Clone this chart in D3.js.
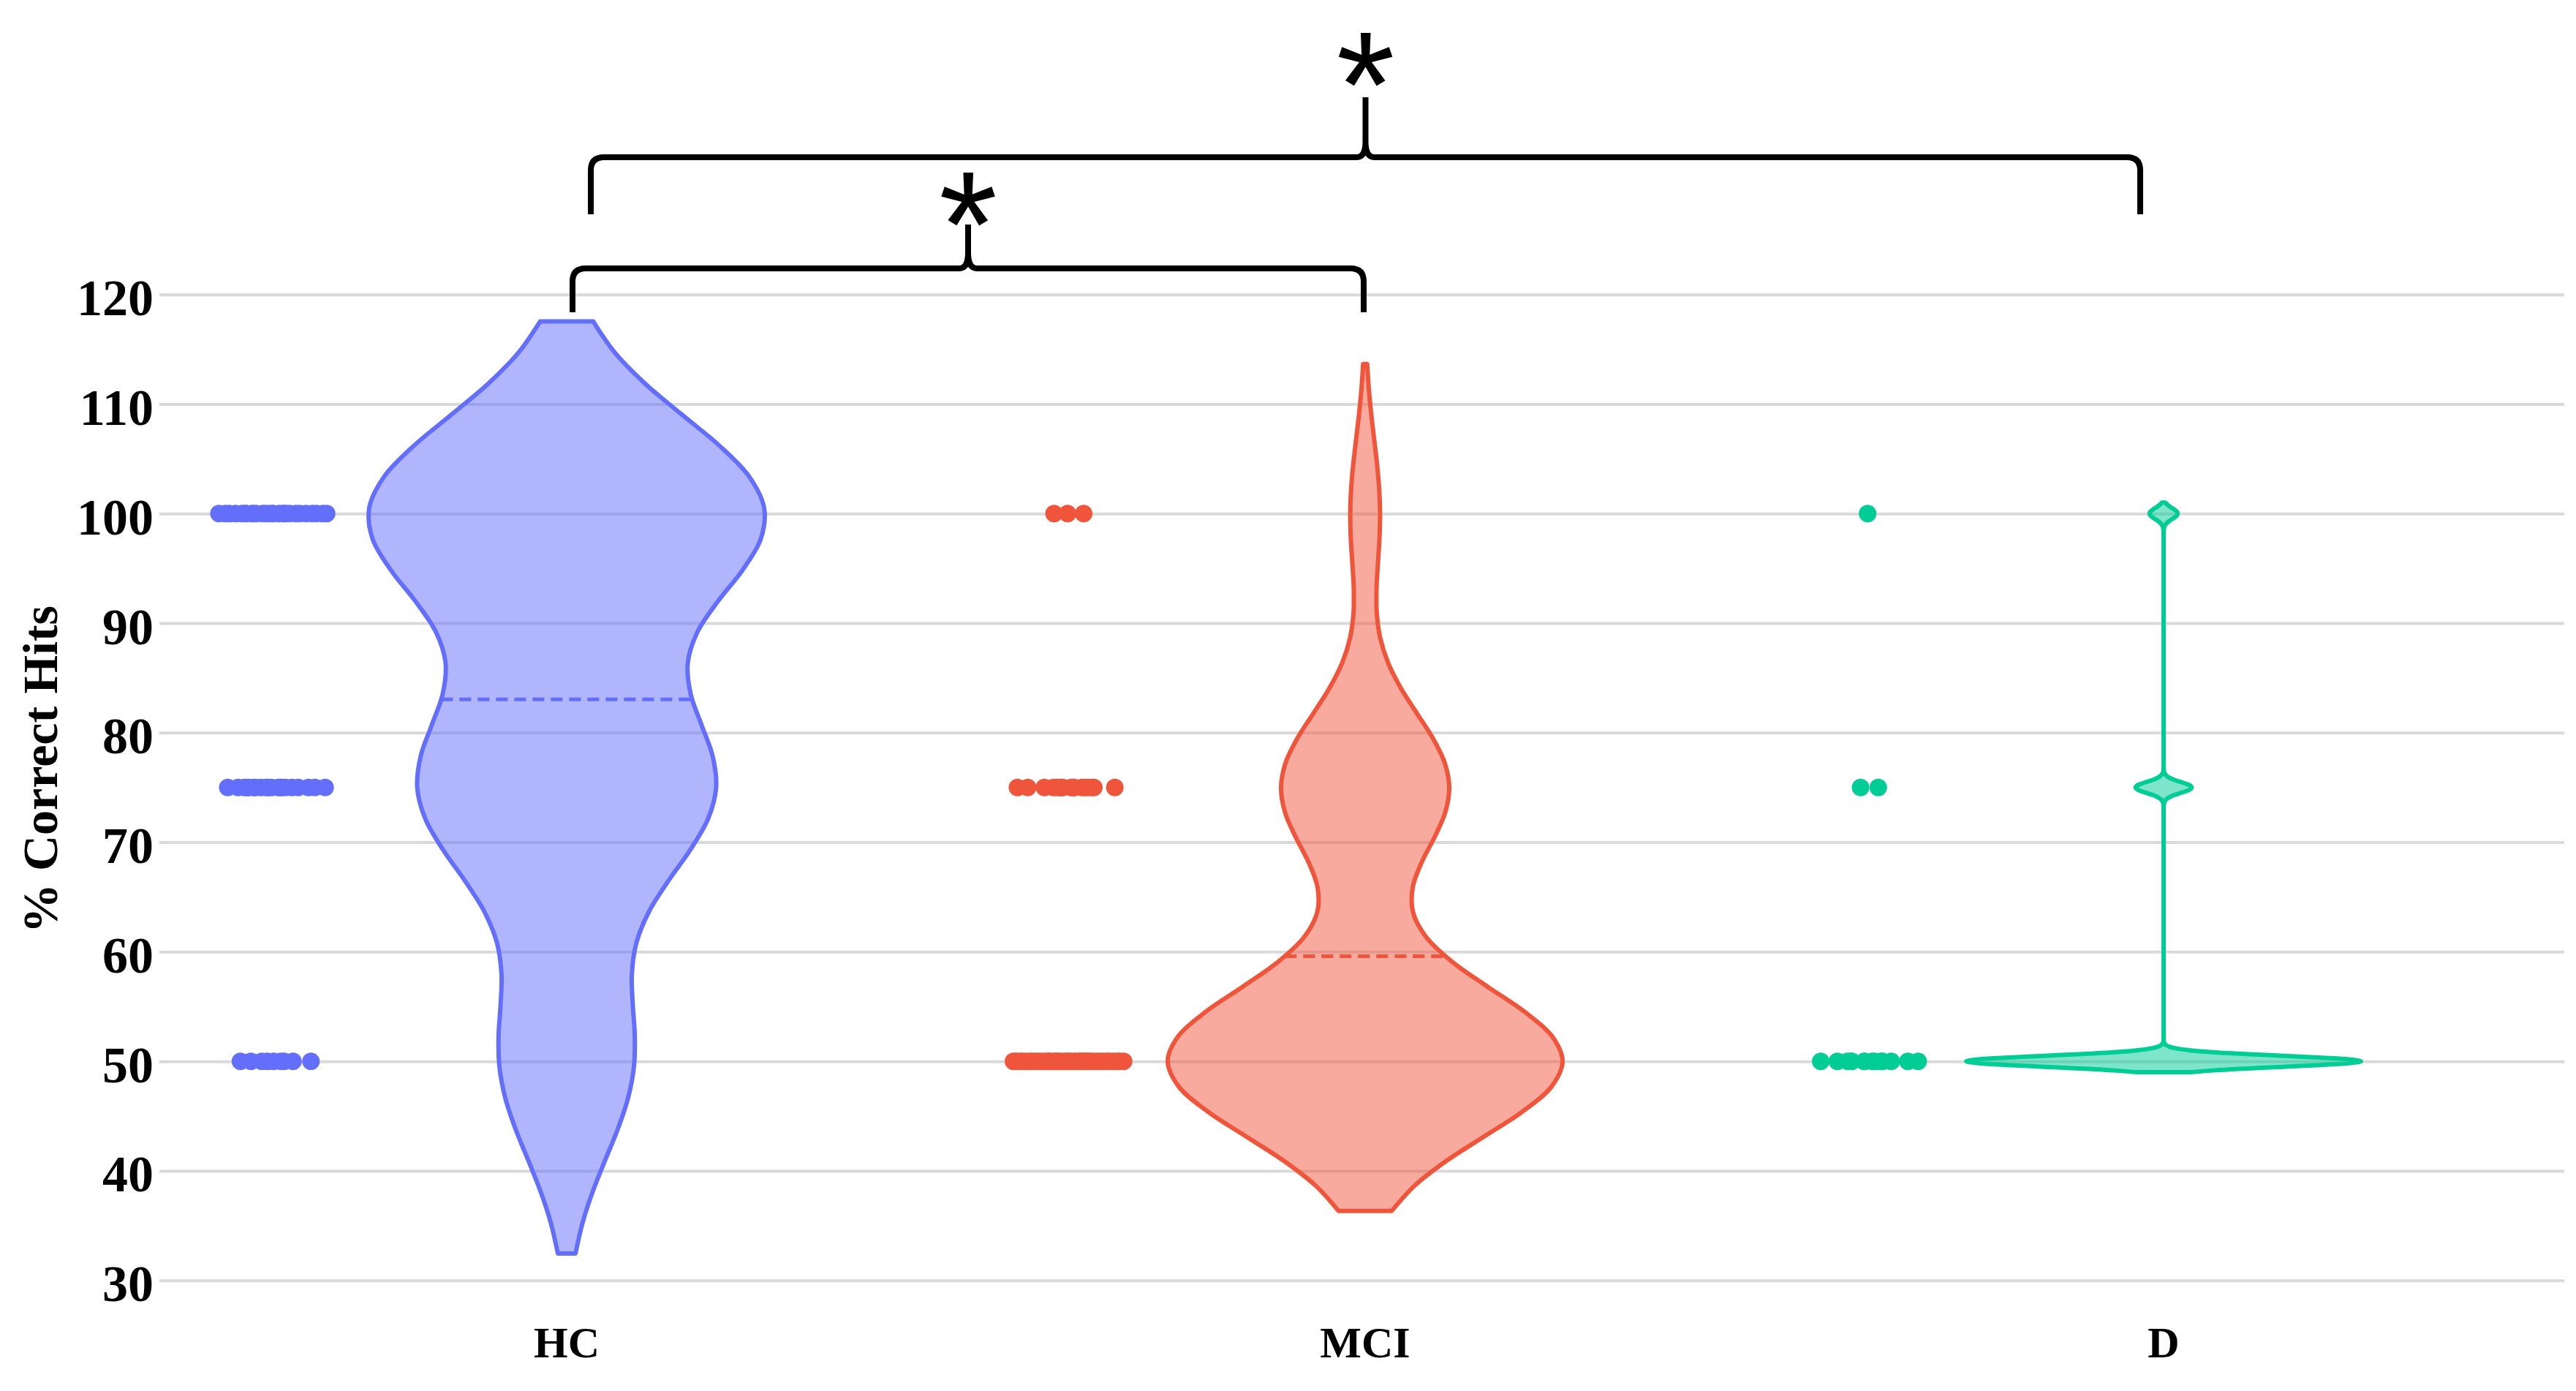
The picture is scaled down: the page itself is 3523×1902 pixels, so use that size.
<!DOCTYPE html>
<html>
<head>
<meta charset="utf-8">
<script src="https://cdn.jsdelivr.net/npm/d3@7"></script>
<style>
  body { margin: 0; background: #fff; }
  svg { display: block; }
</style>
</head>
<body>
<div class="chart"></div>
<script>
// values: how many subjects scored 50, 75, 100 in each group
var categories = ['HC', 'MCI', 'D'];
var scoreLevels = [50, 75, 100];
var countsHC = [9, 20, 27];
var countsMCI = [40, 17, 3];
var countsD = [14, 2, 1];
var groupColors = ['#636efa', '#ef553b', '#00cc96'];
var yTicks = [30, 40, 50, 60, 70, 80, 90, 100, 110, 120];
var yTitle = '% Correct Hits';
var comparisons = [['HC', 'MCI'], ['HC', 'D']];
var compLabels = ['*', '*'];

var width = 3523, height = 1902;
var gridLeft = 218, gridRight = 3507;
var violinHalf = 270, pointShift = -405, jitterHalf = 78, dotR = 12;

var svg = d3.select('.chart').append('svg')
    .attr('width', width)
    .attr('height', height);

var x = d3.scaleBand().domain(categories).range([229, 3505]);
var y = d3.scaleLinear().domain([30, 120]).range([1750.7, 402.7]);
function cx(c) { return x(c) + x.bandwidth() / 2; }

// gridlines + tick labels
var yAxis = d3.axisLeft(y)
    .tickValues(yTicks)
    .tickSize(-(gridRight - gridLeft))
    .tickPadding(8);

svg.append('g')
    .attr('transform', 'translate(' + gridLeft + ',0)')
    .call(yAxis)
    .call(function(g) {
      g.select('.domain').remove();
      g.selectAll('.tick line').attr('stroke', '#d9d9d9').attr('stroke-width', 4);
      g.selectAll('.tick text')
        .attr('dy', null)
        .attr('y', 28)
        .attr('fill', '#000')
        .style('font', 'bold 70px "Liberation Serif", "Times New Roman", serif');
    });

// category labels
var xAxis = d3.axisBottom(x).tickSize(0).tickPadding(0);
svg.append('g')
    .attr('transform', 'translate(0,1856)')
    .call(xAxis)
    .call(function(g) {
      g.select('.domain').remove();
      g.selectAll('.tick text')
        .attr('dy', null)
        .attr('y', 0)
        .attr('fill', '#000')
        .style('font', 'bold 60px "Liberation Serif", "Times New Roman", serif');
    });

svg.append('text')
    .attr('transform', 'translate(78,1052) rotate(-90)')
    .attr('text-anchor', 'middle')
    .style('font', 'bold 68px "Liberation Serif", "Times New Roman", serif')
    .text(yTitle);

// expand counts into raw scores
function expand(counts) {
  var out = [];
  counts.forEach(function(n, i) { for (var k = 0; k < n; k++) out.push(scoreLevels[i]); });
  return out;
}
var groups = [countsHC, countsMCI, countsD].map(function(c, i) {
  return { name: categories[i], color: groupColors[i], vals: expand(c) };
});

// gaussian kde, silverman bandwidth, soft span (like plotly violins)
groups.forEach(function(g) {
  var s = g.vals.slice().sort(d3.ascending);
  var n = s.length;
  var sd = d3.deviation(s);
  var iqr = d3.quantile(s, 0.75) - d3.quantile(s, 0.25);
  var bw = Math.max(1.059 * Math.min(sd, iqr / 1.349) * Math.pow(n, -0.2), (s[n - 1] - s[0]) / 100);
  var kde = function(t) {
    return d3.sum(s, function(v) { return Math.exp(-0.5 * Math.pow((t - v) / bw, 2)); }) / (n * bw);
  };
  var lo = s[0] - 2 * bw, hi = s[n - 1] + 2 * bw;
  var steps = Math.ceil((hi - lo) / (bw / 3)), step = (hi - lo) / steps;
  g.sorted = s;
  g.kde = kde;
  g.mean = d3.mean(s);
  g.density = d3.range(steps + 1).map(function(k) { var t = lo + k * step; return { t: t, v: kde(t) }; });
  g.w = d3.scaleLinear().domain([0, d3.max(g.density, function(d) { return d.v; })]).range([0, violinHalf]);
});

var violin = svg.append('g');
groups.forEach(function(g) {
  var c = cx(g.name);
  var area = d3.area()
      .y(function(d) { return y(d.t); })
      .x0(function(d) { return c - g.w(d.v); })
      .x1(function(d) { return c + g.w(d.v); })
      .curve(d3.curveCatmullRom);
  violin.append('path')
      .datum(g.density)
      .attr('d', area)
      .attr('fill', g.color)
      .attr('fill-opacity', 0.5)
      .attr('stroke', g.color)
      .attr('stroke-width', 6)
      .attr('stroke-linejoin', 'round');

  var mw = g.w(g.kde(g.mean));
  violin.append('line')
      .attr('x1', c - mw).attr('x2', c + mw)
      .attr('y1', y(g.mean)).attr('y2', y(g.mean))
      .attr('stroke', g.color)
      .attr('stroke-width', 5)
      .attr('stroke-dasharray', '16,9');

  // points, spread sideways by local density (fixed golden-ratio sequence, no randomness)
  var s = g.sorted, n = s.length, JC = 5, minSpan = 0.5;
  var f = s.map(function(v, i) {
    var i0 = Math.max(0, i - JC), i1 = Math.min(n - 1, i + JC);
    return Math.min(1, Math.sqrt(minSpan * (i1 - i0) / (s[i1] - s[i0] + minSpan)));
  });
  var fMax = d3.max(f);
  violin.append('g').selectAll('circle')
      .data(s)
      .enter().append('circle')
      .attr('cx', function(d, i) {
        var u = ((i + 1) * 0.6180339887) % 1;
        return c + pointShift + (u - 0.5) * 2 * jitterHalf * f[i] / fMax;
      })
      .attr('cy', function(d) { return y(d); })
      .attr('r', dotR)
      .attr('fill', g.color);
});

// significance brackets
var bracketGeom = [
  { dxFrom: 8, dxTo: -2, lineY: 367, endY: 427, tipY: 307, starY: 273 },
  { dxFrom: 33, dxTo: -32, lineY: 215, endY: 293, tipY: 133, starY: 82 }
];

var ctx = document.createElement('canvas').getContext('2d');
ctx.font = '100px "Liberation Sans"';
var m = ctx.measureText('*');
var inkH = m.actualBoundingBoxAscent + m.actualBoundingBoxDescent;
var starSize = 100 * 74 / inkH;
var starBase = (m.actualBoundingBoxAscent - m.actualBoundingBoxDescent) / 2 * starSize / 100;

var br = svg.append('g');
comparisons.forEach(function(p, i) {
  var gm = bracketGeom[i];
  var x0 = cx(p[0]) + gm.dxFrom, x1 = cx(p[1]) + gm.dxTo;
  var mid = (x0 + x1) / 2, r = 18, h = gm.lineY;
  var path = d3.path();
  path.moveTo(x0, gm.endY);
  path.lineTo(x0, h + r);
  path.quadraticCurveTo(x0, h, x0 + r, h);
  path.lineTo(mid - 12, h);
  path.quadraticCurveTo(mid, h, mid, h - 22);
  path.lineTo(mid, gm.tipY);
  path.moveTo(mid, h - 22);
  path.quadraticCurveTo(mid, h, mid + 12, h);
  path.lineTo(x1 - r, h);
  path.quadraticCurveTo(x1, h, x1, h + r);
  path.lineTo(x1, gm.endY);
  br.append('path')
      .attr('d', path.toString())
      .attr('fill', 'none')
      .attr('stroke', '#000')
      .attr('stroke-width', 8)
      .attr('stroke-linejoin', 'round');
  br.append('text')
      .attr('x', mid)
      .attr('y', gm.starY + starBase)
      .attr('text-anchor', 'middle')
      .style('font', starSize + 'px "Liberation Sans", Arial, sans-serif')
      .text(compLabels[i]);
});
</script>
</body>
</html>
